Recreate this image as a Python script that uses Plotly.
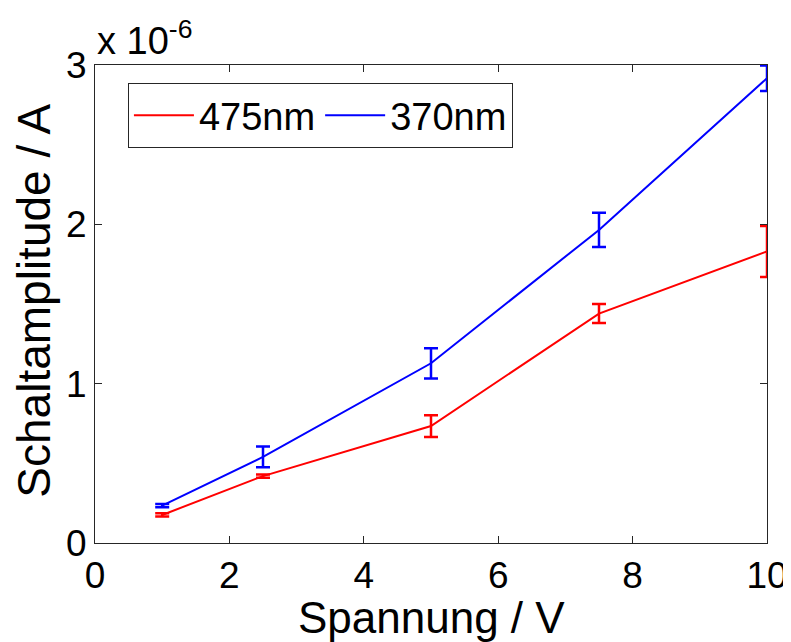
import plotly.graph_objects as go

voltage = [1, 2.5, 5, 7.5, 10]
amp_475 = [0.176, 0.42, 0.734, 1.44, 1.83]
err_475 = [0.01, 0.01, 0.068, 0.06, 0.16]
amp_370 = [0.234, 0.54, 1.128, 1.965, 2.917]
err_370 = [0.01, 0.065, 0.095, 0.107, 0.08]
xticks = [0, 2, 4, 6, 8, 10]
yticks = [0, 1, 2, 3]

FONT = "Liberation Sans, Arial, sans-serif"
RED = "#ff0000"
BLUE = "#0000ff"
AX = "#262626"

fig = go.Figure()
fig.add_trace(go.Scatter(
    x=voltage, y=amp_475, mode="lines", name="475nm",
    line=dict(color=RED, width=2),
    error_y=dict(type="data", array=err_475, color=RED, thickness=2.5, width=7, visible=True),
))
fig.add_trace(go.Scatter(
    x=voltage, y=amp_370, mode="lines", name="370nm",
    line=dict(color=BLUE, width=2),
    error_y=dict(type="data", array=err_370, color=BLUE, thickness=2.5, width=7, visible=True),
))

axis_common = dict(
    showline=True, mirror="ticks", linecolor=AX, linewidth=1,
    ticks="inside", ticklen=7, tickcolor=AX, tickwidth=1,
    showgrid=False, zeroline=False, automargin=False,
    tickfont=dict(family=FONT, size=37, color="black"),
)

# page body has an 8px default margin, so margins are offset by 8px
fig.update_layout(
    width=791, height=642,
    margin=dict(l=87, r=32, t=57, b=107, autoexpand=False),
    paper_bgcolor="white", plot_bgcolor="white",
    font=dict(family=FONT, color="black"),
    xaxis=dict(range=[0, 10], tickvals=xticks, ticktext=[str(v) for v in xticks],
               **axis_common),
    yaxis=dict(range=[0, 3], tickvals=yticks, ticktext=[str(v) for v in yticks],
               **axis_common),
    legend=dict(
        orientation="h", x=0.049, y=0.962, xanchor="left", yanchor="top",
        bgcolor="white", bordercolor=AX, borderwidth=1,
        font=dict(family=FONT, size=38, color="black"),
        itemwidth=60, tracegroupgap=0,
    ),
    showlegend=True,
)

fig.add_annotation(
    xref="paper", yref="paper", x=0.5, y=0, xanchor="center", yanchor="top",
    yshift=-48, text="Spannung / V", showarrow=False,
    font=dict(family=FONT, size=44, color="black"),
)
fig.add_annotation(
    xref="paper", yref="paper", x=0, y=0.507, xanchor="center", yanchor="middle",
    xshift=-61, textangle=-90, text="Schaltamplitude / A", showarrow=False,
    font=dict(family=FONT, size=46, color="black"),
)
fig.add_annotation(
    xref="paper", yref="paper", x=0, y=1, xanchor="left", yanchor="bottom",
    yshift=1, text="x 10<sup>-6</sup>", showarrow=False,
    font=dict(family=FONT, size=38, color="black"),
)

fig.write_html("out.html")
